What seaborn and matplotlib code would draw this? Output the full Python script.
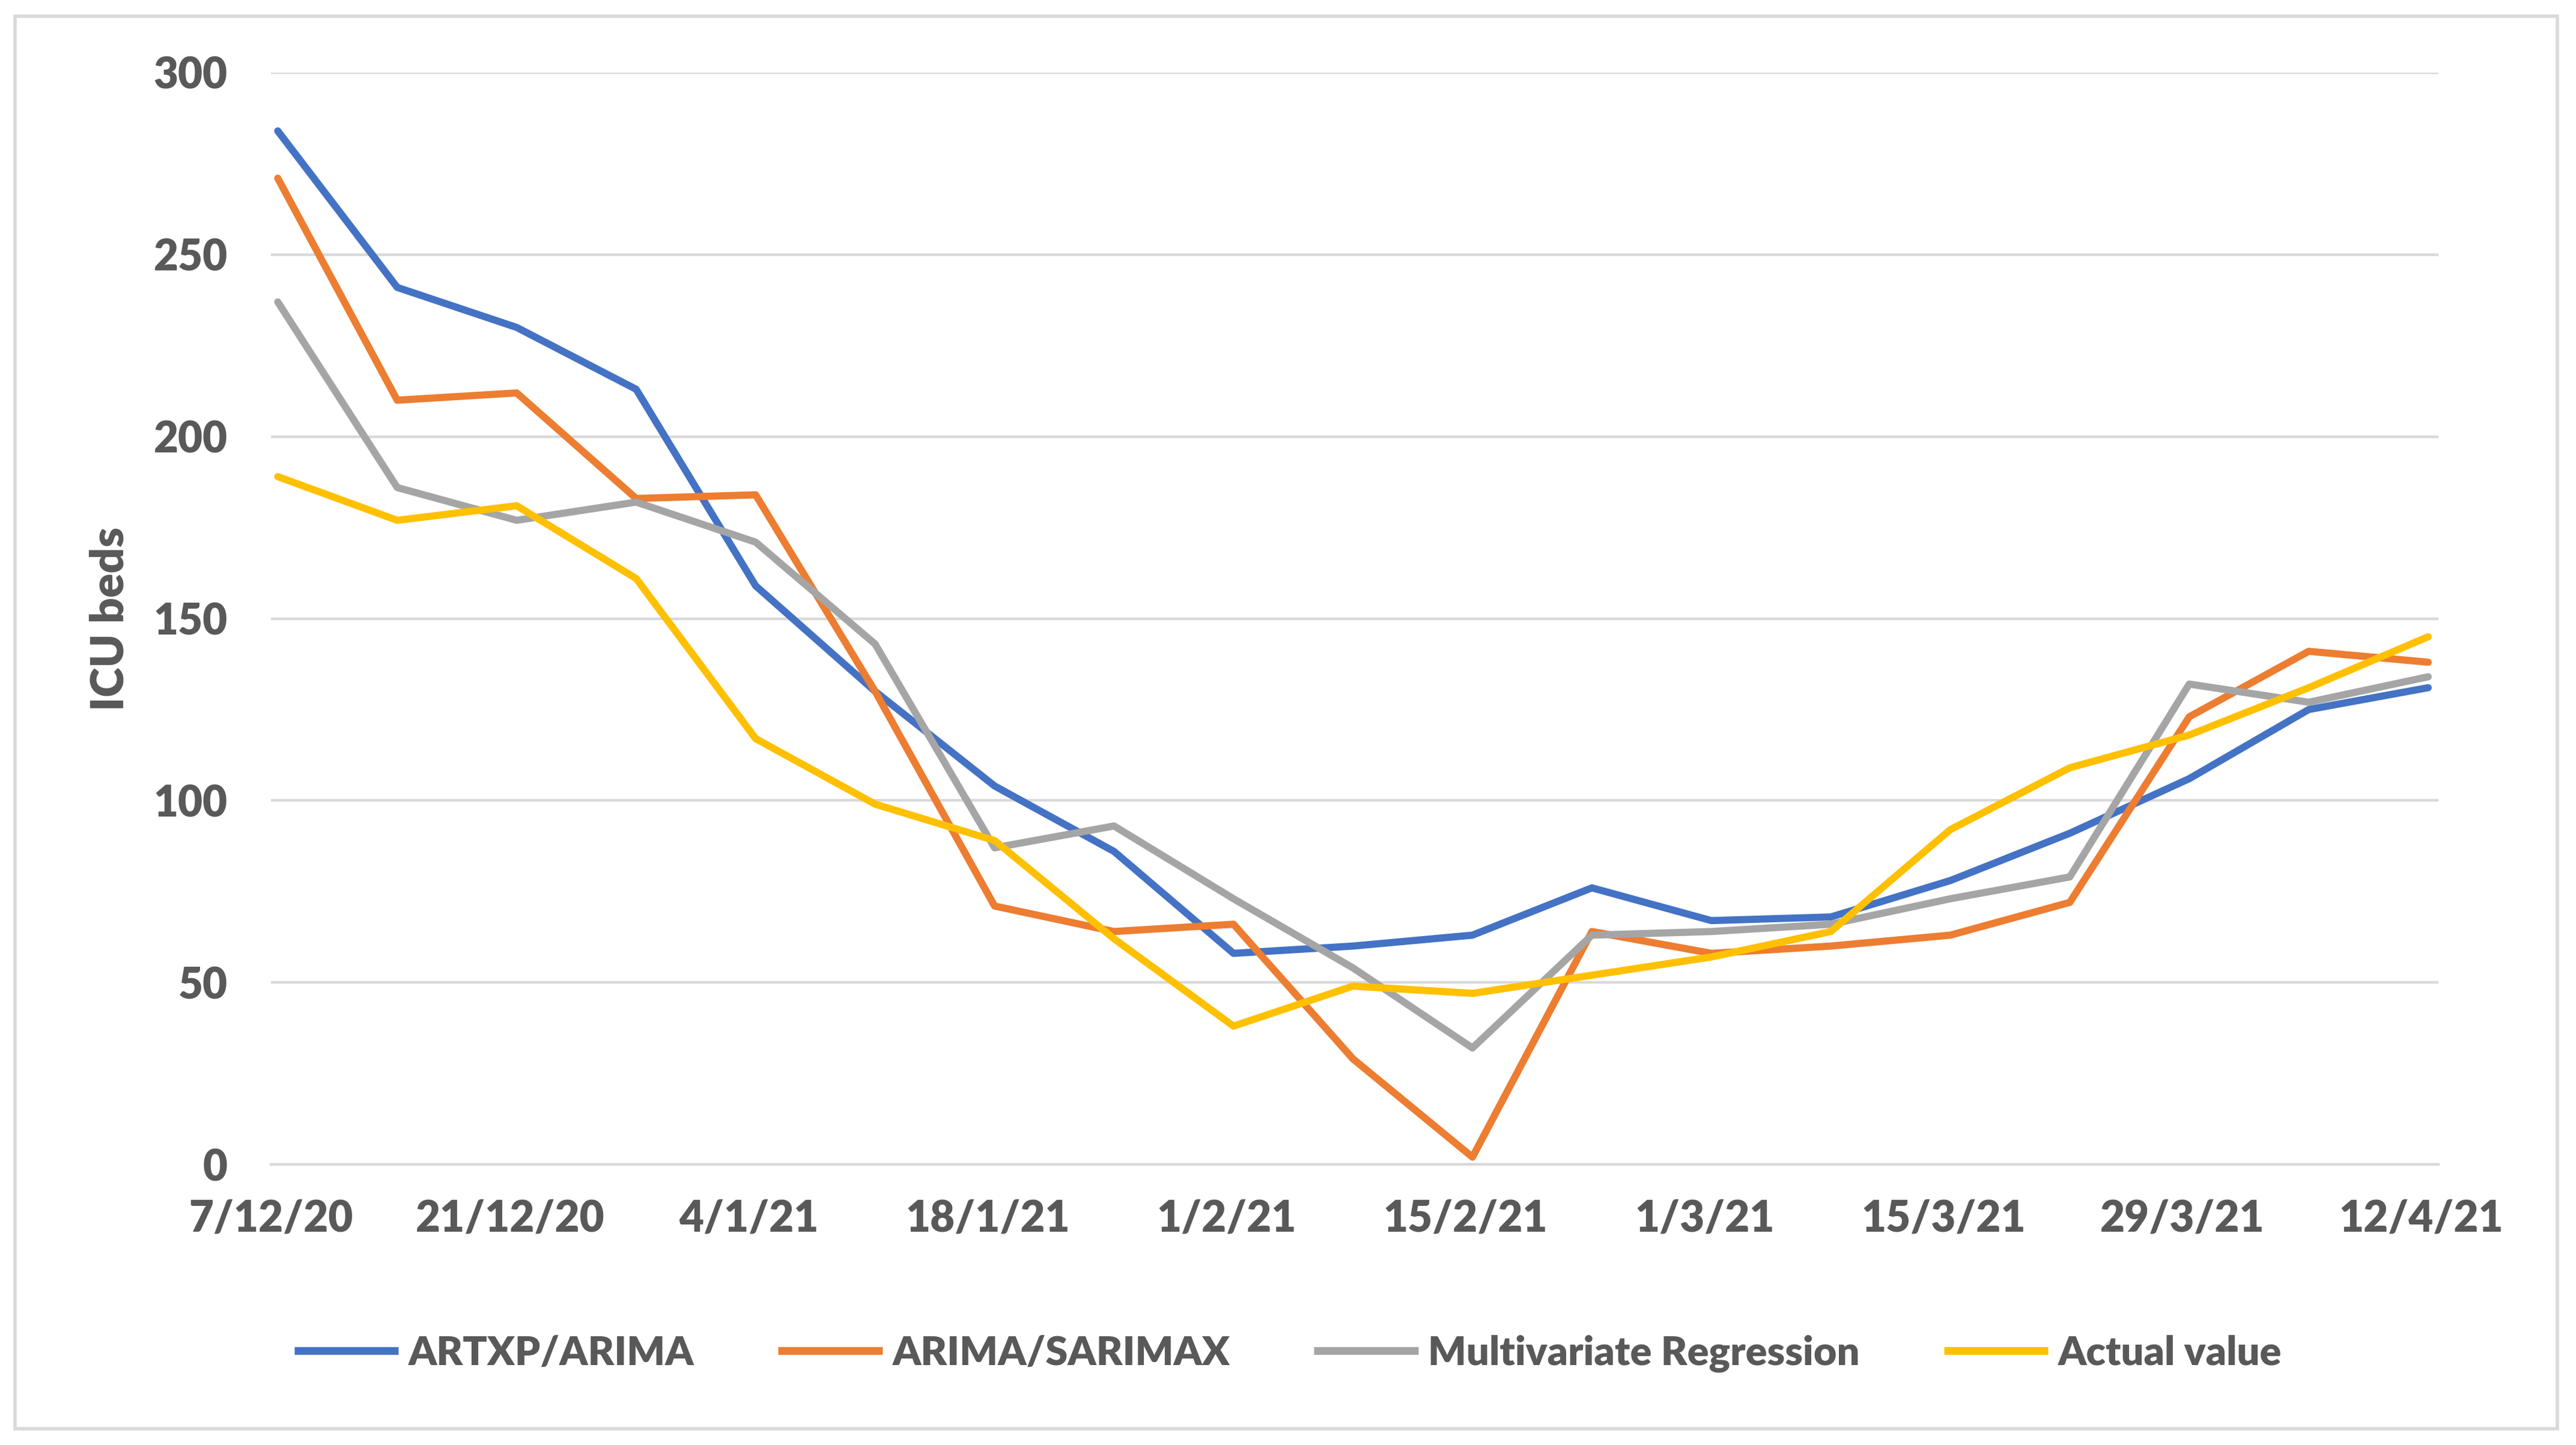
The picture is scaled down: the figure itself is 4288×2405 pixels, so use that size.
import numpy as np
import pandas as pd
import matplotlib
matplotlib.use("Agg")
import matplotlib.pyplot as plt
import seaborn as sns
from matplotlib.patches import Rectangle
from matplotlib.lines import Line2D

# ---------------- data ----------------
dates = ["7/12/20", "14/12/20", "21/12/20", "28/12/20", "4/1/21", "11/1/21",
         "18/1/21", "25/1/21", "1/2/21", "8/2/21", "15/2/21", "22/2/21",
         "1/3/21", "8/3/21", "15/3/21", "22/3/21", "29/3/21", "5/4/21", "12/4/21"]
artxp_arima = [284, 241, 230, 213, 159, 130, 104, 86, 58, 60, 63, 76, 67, 68, 78, 91, 106, 125, 131]
arima_sarimax = [271, 210, 212, 183, 184, 130, 71, 64, 66, 29, 2, 64, 58, 60, 63, 72, 123, 141, 138]
multivariate = [237, 186, 177, 182, 171, 143, 87, 93, 73, 54, 32, 63, 64, 66, 73, 79, 132, 127, 134]
actual = [189, 177, 181, 161, 117, 99, 89, 62, 38, 49, 47, 52, 57, 64, 92, 109, 118, 131, 145]
series_names = ["ARTXP/ARIMA", "ARIMA/SARIMAX", "Multivariate Regression", "Actual value"]
tick_labels = ["7/12/20", "21/12/20", "4/1/21", "18/1/21", "1/2/21", "15/2/21",
               "1/3/21", "15/3/21", "29/3/21", "12/4/21"]
y_ticks = [0, 50, 100, 150, 200, 250, 300]

colors = ["#4472C4", "#ED7D31", "#A5A5A5", "#FFC000"]
text_color = "#595959"
grid_color = "#D9D9D9"

# ---------------- build frame ----------------
d = pd.to_datetime(dates, format="%d/%m/%y")
days = np.array((d - d[0]).days, dtype=float)
df = pd.concat([
    pd.DataFrame({"day": days + 0.4, "value": vals, "series": name})
    for name, vals in zip(series_names, [artxp_arima, arima_sarimax, multivariate, actual])
], ignore_index=True)

# ---------------- style ----------------
sns.set_style("white")
plt.rcParams["font.family"] = ["Lato", "DejaVu Sans"]
WEIGHT = "heavy"
plt.rcParams["font.weight"] = WEIGHT

W, H, DPI = 4288, 2405, 200
fig = plt.figure(figsize=(W / DPI, H / DPI), dpi=DPI)
ax = fig.add_axes([451 / W, 1 - 1938 / H, (4059 - 451) / W, (1938 - 121) / H])

sns.lineplot(data=df, x="day", y="value", hue="series", hue_order=series_names,
             palette=colors, linewidth=4.3, ax=ax, legend=False,
             estimator=None, sort=False)
for ln in ax.get_lines():
    ln.set_solid_capstyle("round")
    ln.set_solid_joinstyle("round")

ax.set_xlim(0, 127)
ax.set_ylim(0, 300)
ax.set_yticks(y_ticks)
ax.set_yticklabels([str(v) for v in y_ticks])
ax.set_xticks(days[::2])
ax.set_xticklabels(tick_labels)

ax.grid(axis="y", color=grid_color, linewidth=1.6)
ax.grid(axis="x", visible=False)
ax.set_axisbelow(True)
for s in ["top", "right", "left"]:
    ax.spines[s].set_visible(False)
ax.spines["bottom"].set_color(grid_color)
ax.spines["bottom"].set_linewidth(1.6)

ax.tick_params(axis="x", length=8.6, width=1.6, color=grid_color, direction="out",
               pad=12, labelsize=25.5, labelcolor=text_color)
ax.tick_params(axis="y", length=0, pad=26, labelsize=25.5, labelcolor=text_color)
for t in ax.get_xticklabels() + ax.get_yticklabels():
    t.set_fontweight(WEIGHT)

ax.set_xlabel("")
ax.set_ylabel("ICU beds", fontsize=27, fontweight=WEIGHT, color=text_color, va="center")
ax.yaxis.set_label_coords(183 / W, 1 - 1030 / H, transform=fig.transFigure)

# legend
handles = [Line2D([0], [0], color=c, linewidth=4.6, solid_capstyle="butt") for c in colors]
leg = fig.legend(handles, series_names, loc="center", bbox_to_anchor=(0.5, 1 - 2253 / H),
                 ncol=4, frameon=False, fontsize=24, handlelength=2.6, handletextpad=0.25,
                 columnspacing=2.1)
for t in leg.get_texts():
    t.set_color(text_color)
    t.set_fontweight(WEIGHT)

# outer border
fig.patches.append(Rectangle((25 / W, 1 - 2378 / H), (4257 - 25) / W, (2378 - 27) / H,
                             transform=fig.transFigure, fill=False,
                             edgecolor=grid_color, linewidth=2.0))

fig.savefig("out.png", dpi=DPI, facecolor="white")
